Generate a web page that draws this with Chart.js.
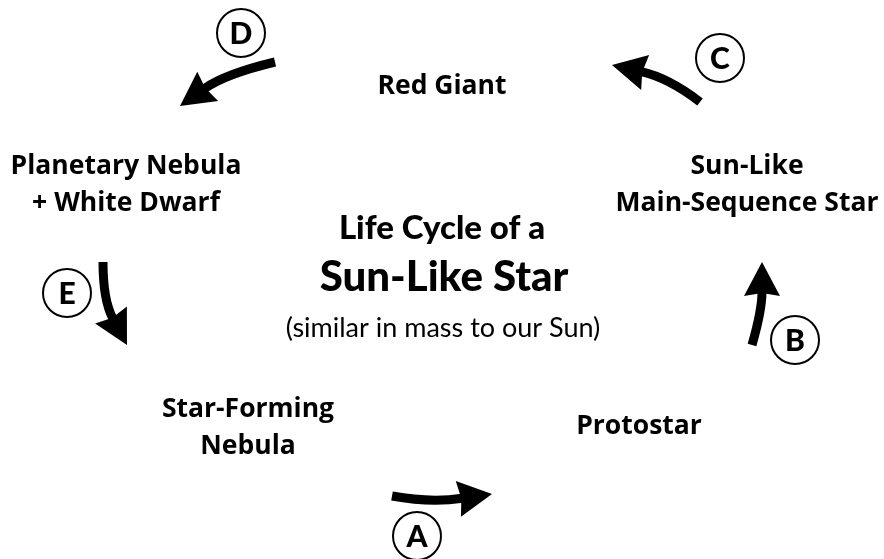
<!DOCTYPE html>
<html>
<head>
<meta charset="utf-8">
<script src="https://cdn.jsdelivr.net/npm/chart.js@4"></script>
<style>
  html, body { margin: 0; padding: 0; background: #fff; }
  #wrap { width: 884px; height: 559px; position: relative; }
</style>
</head>
<body>
<div id="wrap"><canvas id="cycle"></canvas></div>
<script>
// --- stages of the cycle ---
const stageNames = [['Star-Forming', 'Nebula'], ['Protostar'], ['Sun-Like', 'Main-Sequence Star'], ['Red Giant'], ['Planetary Nebula', '+ White Dwarf']];
const stageX = [248, 639, 747, 442, 126];
const stageY = [417, 434, 174, 94, 174]; // baseline of first line

// --- step markers (circled letters) ---
const stepLetters = ['A', 'B', 'C', 'D', 'E'];
const badgeX = [417, 795, 720, 241, 67];
const badgeY = [536, 340, 58, 33, 293];

// --- arrows: tail, bend (control) and tip ---
const arrowTail = [[392, 496], [752, 345], [700, 102], [275, 62], [103, 262]];
const arrowBend = [[430, 503], [762, 310], [669, 78], [225, 74], [103, 300]];
const arrowTip = [[492, 494], [762, 262], [612, 65], [180, 106], [127, 345]];

// --- centre titles ---
const titleLines = ['Life Cycle of a', 'Sun-Like Star', '(similar in mass to our Sun)'];

const W = 884, H = 559;

const diagramPlugin = {
    id: 'diagram',
    afterDatasetsDraw(chart) {
        const ctx = chart.ctx;
        const sx = v => chart.scales.x.getPixelForValue(v);
        const sy = v => chart.scales.y.getPixelForValue(v);
        ctx.save();
        ctx.fillStyle = '#000';
        ctx.strokeStyle = '#000';

        // arrows
        arrowTip.forEach((tip, i) => {
            const t = [sx(tip[0]), sy(tip[1])];
            const c = [sx(arrowBend[i][0]), sy(arrowBend[i][1])];
            const s = [sx(arrowTail[i][0]), sy(arrowTail[i][1])];
            let dx = t[0] - c[0], dy = t[1] - c[1];
            const len = Math.hypot(dx, dy);
            dx /= len; dy /= len;
            const headLen = 34, half = 18;
            const b = [t[0] - dx * headLen, t[1] - dy * headLen];
            ctx.lineWidth = 9;
            ctx.lineCap = 'butt';
            ctx.beginPath();
            ctx.moveTo(s[0], s[1]);
            ctx.quadraticCurveTo(c[0], c[1], b[0] + dx * 4, b[1] + dy * 4);
            ctx.stroke();
            ctx.beginPath();
            ctx.moveTo(t[0], t[1]);
            ctx.lineTo(b[0] - dy * half, b[1] + dx * half);
            ctx.lineTo(b[0] + dx * 3, b[1] + dy * 3);
            ctx.lineTo(b[0] + dy * half, b[1] - dx * half);
            ctx.closePath();
            ctx.fill();
        });

        // letters in the circles
        ctx.textAlign = 'center';
        ctx.textBaseline = 'alphabetic';
        ctx.font = '900 30px Lato';
        stepLetters.forEach((l, i) => {
            ctx.fillText(l, sx(badgeX[i]), sy(badgeY[i]) + 11);
        });

        // stage labels
        ctx.font = '700 26.5px "Open Sans"';
        stageNames.forEach((lines, i) => {
            lines.forEach((txt, j) => {
                ctx.fillText(txt, sx(stageX[i]), sy(stageY[i] + j * 37));
            });
        });

        // centre title
        ctx.font = '900 33px Lato';
        ctx.fillText(titleLines[0], sx(442), sy(239));
        ctx.font = '900 42px Lato';
        ctx.fillText(titleLines[1], sx(444), sy(291));
        ctx.font = '400 27px Lato';
        ctx.fillText(titleLines[2], sx(443), sy(337));
        ctx.restore();
    }
};

new Chart(document.getElementById('cycle'), {
    type: 'scatter',
    data: {
        datasets: [{
            label: 'steps',
            data: badgeX.map((x, i) => ({ x: x, y: badgeY[i] })),
            pointRadius: 24,
            pointHoverRadius: 24,
            pointBorderWidth: 2,
            pointBorderColor: '#000',
            pointBackgroundColor: '#fff',
            clip: false
        }]
    },
    options: {
        responsive: true,
        maintainAspectRatio: false,
        animation: false,
        layout: { padding: 0, autoPadding: false },
        events: [],
        plugins: { legend: { display: false }, tooltip: { enabled: false } },
        scales: {
            x: { display: false, min: 0, max: W },
            y: { display: false, min: 0, max: H, reverse: true }
        }
    },
    plugins: [diagramPlugin]
});
</script>
</body>
</html>
